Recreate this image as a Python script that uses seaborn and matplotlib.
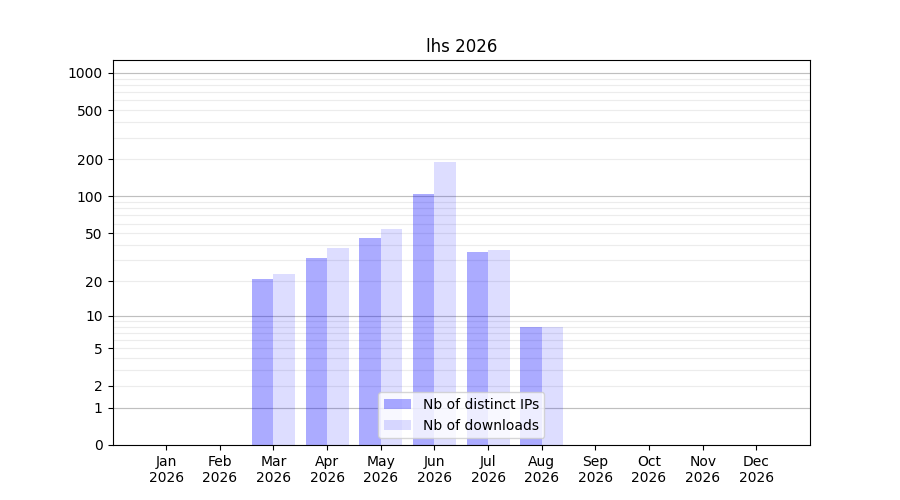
import numpy as np
import pandas as pd
import seaborn as sns
import matplotlib.pyplot as plt
from matplotlib.ticker import FixedLocator, NullFormatter


months = ["Jan", "Feb", "Mar", "Apr", "May", "Jun",
          "Jul", "Aug", "Sep", "Oct", "Nov", "Dec"]
year = "2026"
distinct_ips = [0, 0, 21, 31, 46, 104, 35, 8, 0, 0, 0, 0]
downloads = [0, 0, 23, 38, 54, 192, 36, 8, 0, 0, 0, 0]
series_names = ["Nb of distinct IPs", "Nb of downloads"]
ytick_values = [0, 1, 2, 5, 10, 20, 50, 100, 200, 500, 1000]


df = pd.DataFrame({
    "month": months * 2,
    "value": distinct_ips + downloads,
    "series": [series_names[0]] * len(months) + [series_names[1]] * len(months),
})

fig, ax = plt.subplots(figsize=(9, 5), dpi=100)

sns.barplot(data=df, x="month", y="value", hue="series", order=months,
            hue_order=series_names, palette=["blue", "blue"], width=0.8,
            ax=ax, zorder=2, legend=False)

# transparent blue bars, like the original
colors = [(0, 0, 1, 0.33), (0, 0, 1, 0.133)]
n = len(months)
for i, bar in enumerate(ax.patches[:2 * n]):
    bar.set_facecolor(colors[i // n])
    bar.set_edgecolor("none")

# log(1 + x) scale
ax.set_yscale("function", functions=(lambda v: np.log10(np.clip(v, 0, None) + 1),
                                     lambda v: 10 ** v - 1))
ax.set_ylim(0, 1270)
ax.set_xlim(-1, 12)

ax.yaxis.set_major_locator(FixedLocator(ytick_values))
ax.set_yticklabels([str(v) for v in ytick_values])
minor = [k * 10 ** j for j in range(0, 4) for k in range(2, 10)]
ax.yaxis.set_minor_locator(FixedLocator(minor))
ax.yaxis.set_minor_formatter(NullFormatter())
ax.tick_params(axis="y", which="minor", length=0)

ax.grid(axis="y", which="both", color="#ececec", linewidth=0.8, zorder=0)
ax.set_axisbelow(True)
for d in [1, 10, 100, 1000]:
    ax.axhline(d, color="#bfbfbf", linewidth=0.8, zorder=1)

ax.set_xticks(range(n))
ax.set_xticklabels([f"{m}\n{year}" for m in months])
ax.set_xlabel("")
ax.set_ylabel("")
ax.set_title("lhs 2026")

handles = [plt.Rectangle((0, 0), 1, 1, facecolor=c, edgecolor="none") for c in colors]
ax.legend(handles, series_names, loc="lower center")

plt.subplots_adjust(left=0.125, right=0.9, top=0.88, bottom=0.11)
plt.savefig("out.png", dpi=100)
